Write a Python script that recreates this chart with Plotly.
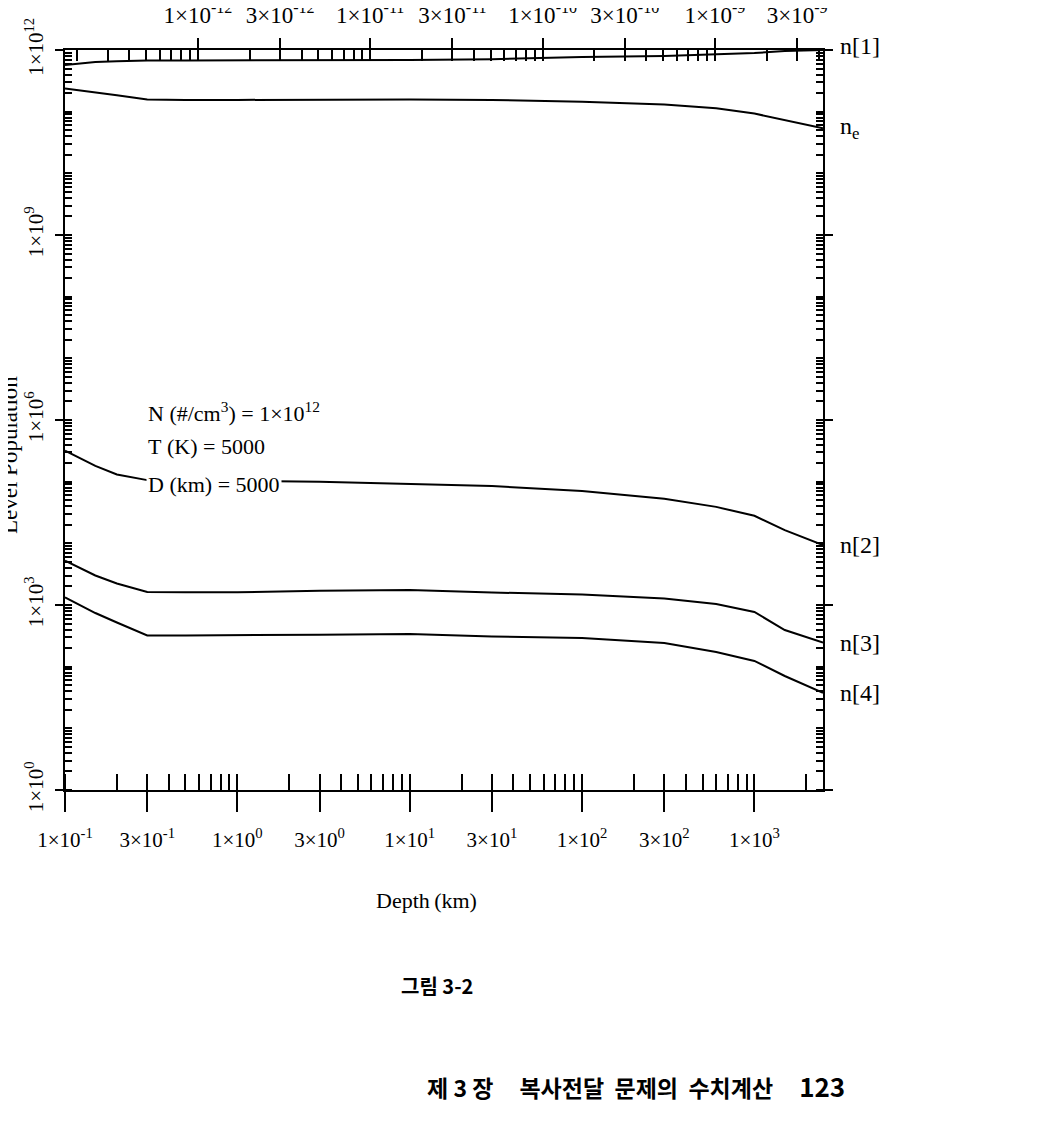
import math
import plotly.graph_objects as go

# ---------------- data ----------------
depth_km = [0.1, 0.15, 0.2, 0.3, 0.5, 1, 3, 10, 30, 100, 300, 600, 1000, 1500, 2500]
n1 = [5.7e11, 6.4e11, 6.6e11, 6.75e11, 6.75e11, 6.75e11, 6.75e11, 6.9e11, 7.1e11,
      7.7e11, 8.0e11, 8.45e11, 8.9e11, 9.6e11, 1.0e12]
ne = [2.38e11, 2.07e11, 1.85e11, 1.58e11, 1.54e11, 1.55e11, 1.58e11, 1.58e11, 1.55e11,
      1.45e11, 1.31e11, 1.14e11, 9.3e10, 7.3e10, 5.4e10]
n2 = [3.18e5, 1.80e5, 1.31e5, 1.06e5, 1.03e5, 1.03e5, 9.98e4, 9.3e4, 8.5e4,
      7.05e4, 5.3e4, 3.9e4, 2.8e4, 1.64e4, 9.4e3]
n3 = [5230, 3010, 2230, 1625, 1605, 1605, 1705, 1750, 1595, 1480, 1275, 1040, 770, 393, 245]
n4 = [1333, 741, 520, 320, 320, 322, 330, 339, 308, 292, 242, 173, 124, 70.6, 37.8]

series_names = ["n[1]", "n<sub>e</sub>", "n[2]", "n[3]", "n[4]"]
series_values = [n1, ne, n2, n3, n4]

# bottom axis ticks (depth, km)
x_tickvals = [0.1, 0.3, 1, 3, 10, 30, 100, 300, 1000]
x_ticktext = ["1×10<sup>-1</sup>", "3×10<sup>-1</sup>", "1×10<sup>0</sup>", "3×10<sup>0</sup>",
              "1×10<sup>1</sup>", "3×10<sup>1</sup>", "1×10<sup>2</sup>", "3×10<sup>2</sup>",
              "1×10<sup>3</sup>"]
x_range_km = [0.1, 2500]

# top axis (second scale, proportional to depth)
top_scale = 1.694e-12
top_tickvals = [1e-12, 3e-12, 1e-11, 3e-11, 1e-10, 3e-10, 1e-9, 3e-9]
top_ticktext = ["1×10<sup>-12</sup>", "3×10<sup>-12</sup>", "1×10<sup>-11</sup>", "3×10<sup>-11</sup>",
                "1×10<sup>-10</sup>", "3×10<sup>-10</sup>", "1×10<sup>-9</sup>", "3×10<sup>-9</sup>"]

# left axis ticks
y_tickvals = [1, 1e3, 1e6, 1e9, 1e12]
y_ticktext = ["1×10<sup>0</sup>", "1×10<sup>3</sup>", "1×10<sup>6</sup>", "1×10<sup>9</sup>",
              "1×10<sup>12</sup>"]
y_range = [1, 1e12]

SERIF = "Liberation Serif"
KR = "Noto Sans CJK KR"
NB = "\u00a0"

# plot frame in page pixels (page body has an 8px margin)
BODY = 8
PX_L, PX_R, PX_T, PX_B = 65, 823, 50, 790
FIG_W, FIG_H = 1055, 1134


def px_x(x):
    return (x - PX_L) / (PX_R - PX_L)


def px_y(y):
    return (PX_B - y) / (PX_B - PX_T)


fig = go.Figure()
for name, vals in zip(series_names, series_values):
    fig.add_trace(go.Scatter(x=depth_km, y=vals, mode="lines",
                             line=dict(color="black", width=2), name=name,
                             showlegend=False, hoverinfo="skip"))
# invisible traces so that the overlay axes are drawn
for ax, scale in (("x2", top_scale), ("x3", 1.0), ("x4", top_scale)):
    fig.add_trace(go.Scatter(x=[d * scale for d in depth_km], y=n1, xaxis=ax,
                             mode="lines", line=dict(width=0, color="rgba(0,0,0,0)"),
                             showlegend=False, hoverinfo="skip"))


def minor_vals(k0, k1):
    return [m * 10.0 ** k for k in range(k0, k1) for m in range(1, 10)]


bottom_range = [math.log10(x_range_km[0]), math.log10(x_range_km[1])]
top_range = [math.log10(x_range_km[0] * top_scale), math.log10(x_range_km[1] * top_scale)]

fig.update_layout(
    width=FIG_W, height=FIG_H,
    margin=dict(l=PX_L - BODY, r=FIG_W + BODY - PX_R, t=PX_T - BODY, b=FIG_H + BODY - PX_B),
    paper_bgcolor="white", plot_bgcolor="white",
    font=dict(family=SERIF, color="black", size=16),
    xaxis=dict(
        type="log", range=bottom_range, automargin=False,
        tickmode="array", tickvals=x_tickvals, ticktext=x_ticktext,
        ticks="outside", ticklen=20, tickwidth=2, tickcolor="black",
        ticklabelstandoff=10,
        tickfont=dict(family=SERIF, size=21),
        showline=True, linewidth=2, linecolor="black", showgrid=False, zeroline=False,
        minor=dict(tickmode="array", tickvals=minor_vals(-1, 4), ticks="inside",
                   ticklen=16, tickwidth=2, tickcolor="black", showgrid=False),
    ),
    xaxis3=dict(
        type="log", overlaying="x", side="bottom", range=bottom_range, automargin=False,
        tickmode="array", tickvals=x_tickvals, showticklabels=False,
        ticks="inside", ticklen=16, tickwidth=2, tickcolor="black",
        showline=False, showgrid=False, zeroline=False,
    ),
    xaxis2=dict(
        type="log", overlaying="x", side="top", range=top_range, automargin=False,
        tickmode="array", tickvals=top_tickvals, ticktext=top_ticktext,
        ticks="outside", ticklen=10, tickwidth=2, tickcolor="black",
        ticklabelstandoff=6,
        tickfont=dict(family=SERIF, size=23),
        showline=True, linewidth=2, linecolor="black", showgrid=False, zeroline=False,
        minor=dict(tickmode="array", tickvals=minor_vals(-13, -8), ticks="inside",
                   ticklen=11, tickwidth=2, tickcolor="black", showgrid=False),
    ),
    xaxis4=dict(
        type="log", overlaying="x", side="top", range=top_range, automargin=False,
        tickmode="array", tickvals=top_tickvals, showticklabels=False,
        ticks="inside", ticklen=11, tickwidth=2, tickcolor="black",
        showline=False, showgrid=False, zeroline=False,
    ),
    yaxis=dict(
        type="log", range=[math.log10(y_range[0]), math.log10(y_range[1])], automargin=False,
        tickmode="array", tickvals=y_tickvals, ticktext=y_ticktext,
        ticks="outside", ticklen=8, tickwidth=2, tickcolor="black",
        tickangle=-90, ticklabelstandoff=4,
        tickfont=dict(family=SERIF, size=21),
        showline=True, linewidth=2, linecolor="black", mirror="ticks",
        showgrid=False, zeroline=False,
        minor=dict(tickmode="array", tickvals=minor_vals(0, 12), ticks="inside",
                   ticklen=7, tickwidth=2, tickcolor="black", showgrid=False),
    ),
)

# y-axis title (cut at the page edge as in the scan)
fig.add_annotation(x=px_x(9), xref="paper", xanchor="center",
                   y=px_y(455), yref="paper", yanchor="middle", textangle=-90,
                   text="Level Population", showarrow=False,
                   font=dict(family=SERIF, size=23, color="black"))

# x-axis title
fig.add_annotation(x=px_x(426), xref="paper", xanchor="center",
                   y=px_y(900), yref="paper", yanchor="middle",
                   text="Depth" + "\u2009" + "(km)", showarrow=False,
                   font=dict(family=SERIF, size=22, color="black"))

# right-hand series labels at the curve ends (paper y from log values)
label_offsets = [0.006, 0, 0, 0, 0]
for name, vals, off in zip(series_names, series_values, label_offsets):
    fig.add_annotation(x=px_x(838), xref="paper", xanchor="left",
                       y=math.log10(vals[-1]) / 12 + off, yref="paper", yanchor="middle",
                       text=name, showarrow=False,
                       font=dict(family=SERIF, size=24, color="black"))

# parameter block
params = ["N" + NB + "(#/cm<sup>3</sup>)" + NB + "=" + NB + "1×10<sup>12</sup>",
          "T" + NB + "(K)" + NB + "=" + NB + "5000",
          "D" + NB + "(km)" + NB + "=" + NB + "5000"]
param_y_px = [412, 447, 484]
for txt, ypx in zip(params, param_y_px):
    fig.add_annotation(x=px_x(146), xref="paper", xanchor="left",
                       y=px_y(ypx), yref="paper", yanchor="middle",
                       text=txt, showarrow=False, bgcolor="white", borderpad=1,
                       font=dict(family=SERIF, size=22, color="black"))

# page captions
fig.add_annotation(x=px_x(437), xref="paper", xanchor="center",
                   y=px_y(985), yref="paper", yanchor="middle",
                   text="<b>그림 3-2</b>", showarrow=False,
                   font=dict(family=KR, size=20, color="black"))
caption = ("제" + NB + "3" + NB + "장" + NB * 5 + "복사전달" + NB * 2 + "문제의" + NB * 2
           + "수치계산" + NB * 5 + "<span style='font-size:26px'>123</span>")
fig.add_annotation(x=px_x(425), xref="paper", xanchor="left",
                   y=px_y(1085), yref="paper", yanchor="middle",
                   text="<b>" + caption + "</b>", showarrow=False,
                   font=dict(family=KR, size=23, color="black"))

fig.write_html("out.html")
